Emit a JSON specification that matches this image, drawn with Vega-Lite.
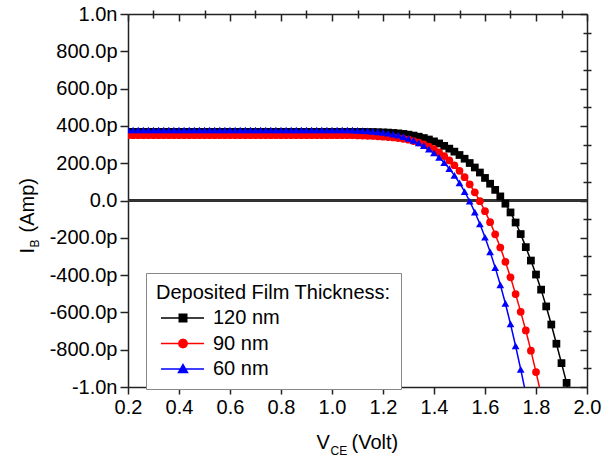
{
 "$schema": "https://vega.github.io/schema/vega-lite/v6.json",
 "width": 459, "height": 373,
 "autosize": {"type": "none"},
 "padding": {"left": 128, "top": 14, "right": 26, "bottom": 73},
 "config": {
  "view": {"stroke": null},
  "font": "Liberation Sans",
  "axis": {"grid": false, "labelFlush": false, "domainColor": "#222", "tickColor": "#222", "domainWidth": 1.5, "tickWidth": 1.5, "labelColor": "#000", "titleColor": "#000", "labelFont": "Liberation Sans", "titleFont": "Liberation Sans", "titleFontWeight": "normal", "labelFontSize": 20, "titleFontSize": 20}
 },
 "data": {"values": [
{"v":0.2,"i":0.368,"s":"120 nm"},{"v":0.22,"i":0.368,"s":"120 nm"},{"v":0.24,"i":0.368,"s":"120 nm"},{"v":0.26,"i":0.368,"s":"120 nm"},{"v":0.28,"i":0.368,"s":"120 nm"},{"v":0.3,"i":0.368,"s":"120 nm"},{"v":0.32,"i":0.368,"s":"120 nm"},{"v":0.34,"i":0.368,"s":"120 nm"},{"v":0.36,"i":0.368,"s":"120 nm"},{"v":0.38,"i":0.368,"s":"120 nm"},
{"v":0.4,"i":0.368,"s":"120 nm"},{"v":0.42,"i":0.368,"s":"120 nm"},{"v":0.44,"i":0.368,"s":"120 nm"},{"v":0.46,"i":0.368,"s":"120 nm"},{"v":0.48,"i":0.368,"s":"120 nm"},{"v":0.5,"i":0.368,"s":"120 nm"},{"v":0.52,"i":0.368,"s":"120 nm"},{"v":0.54,"i":0.368,"s":"120 nm"},{"v":0.56,"i":0.368,"s":"120 nm"},{"v":0.58,"i":0.368,"s":"120 nm"},
{"v":0.6,"i":0.368,"s":"120 nm"},{"v":0.62,"i":0.368,"s":"120 nm"},{"v":0.64,"i":0.368,"s":"120 nm"},{"v":0.66,"i":0.368,"s":"120 nm"},{"v":0.68,"i":0.368,"s":"120 nm"},{"v":0.7,"i":0.368,"s":"120 nm"},{"v":0.72,"i":0.368,"s":"120 nm"},{"v":0.74,"i":0.368,"s":"120 nm"},{"v":0.76,"i":0.368,"s":"120 nm"},{"v":0.78,"i":0.368,"s":"120 nm"},
{"v":0.8,"i":0.368,"s":"120 nm"},{"v":0.82,"i":0.368,"s":"120 nm"},{"v":0.84,"i":0.368,"s":"120 nm"},{"v":0.86,"i":0.368,"s":"120 nm"},{"v":0.88,"i":0.368,"s":"120 nm"},{"v":0.9,"i":0.368,"s":"120 nm"},{"v":0.92,"i":0.368,"s":"120 nm"},{"v":0.94,"i":0.368,"s":"120 nm"},{"v":0.96,"i":0.368,"s":"120 nm"},{"v":0.98,"i":0.368,"s":"120 nm"},
{"v":1.0,"i":0.368,"s":"120 nm"},{"v":1.02,"i":0.368,"s":"120 nm"},{"v":1.04,"i":0.368,"s":"120 nm"},{"v":1.06,"i":0.368,"s":"120 nm"},{"v":1.08,"i":0.368,"s":"120 nm"},{"v":1.1,"i":0.368,"s":"120 nm"},{"v":1.12,"i":0.368,"s":"120 nm"},{"v":1.14,"i":0.367,"s":"120 nm"},{"v":1.16,"i":0.367,"s":"120 nm"},{"v":1.18,"i":0.366,"s":"120 nm"},
{"v":1.2,"i":0.365,"s":"120 nm"},{"v":1.22,"i":0.364,"s":"120 nm"},{"v":1.24,"i":0.362,"s":"120 nm"},{"v":1.26,"i":0.36,"s":"120 nm"},{"v":1.28,"i":0.357,"s":"120 nm"},{"v":1.3,"i":0.353,"s":"120 nm"},{"v":1.32,"i":0.348,"s":"120 nm"},{"v":1.34,"i":0.342,"s":"120 nm"},{"v":1.36,"i":0.335,"s":"120 nm"},{"v":1.38,"i":0.327,"s":"120 nm"},
{"v":1.4,"i":0.317,"s":"120 nm"},{"v":1.42,"i":0.306,"s":"120 nm"},{"v":1.44,"i":0.293,"s":"120 nm"},{"v":1.46,"i":0.278,"s":"120 nm"},{"v":1.48,"i":0.262,"s":"120 nm"},{"v":1.5,"i":0.244,"s":"120 nm"},{"v":1.52,"i":0.224,"s":"120 nm"},{"v":1.54,"i":0.201,"s":"120 nm"},{"v":1.56,"i":0.177,"s":"120 nm"},{"v":1.58,"i":0.15,"s":"120 nm"},
{"v":1.6,"i":0.121,"s":"120 nm"},{"v":1.62,"i":0.09,"s":"120 nm"},{"v":1.64,"i":0.057,"s":"120 nm"},{"v":1.66,"i":0.022,"s":"120 nm"},{"v":1.68,"i":-0.017,"s":"120 nm"},{"v":1.7,"i":-0.064,"s":"120 nm"},{"v":1.72,"i":-0.118,"s":"120 nm"},{"v":1.74,"i":-0.18,"s":"120 nm"},{"v":1.76,"i":-0.25,"s":"120 nm"},{"v":1.78,"i":-0.322,"s":"120 nm"},
{"v":1.8,"i":-0.397,"s":"120 nm"},{"v":1.82,"i":-0.478,"s":"120 nm"},{"v":1.84,"i":-0.568,"s":"120 nm"},{"v":1.86,"i":-0.665,"s":"120 nm"},{"v":1.88,"i":-0.768,"s":"120 nm"},{"v":1.9,"i":-0.872,"s":"120 nm"},{"v":1.92,"i":-0.978,"s":"120 nm"},{"v":1.94,"i":-1.085,"s":"120 nm"},

{"v":0.2,"i":0.35,"s":"90 nm"},{"v":0.22,"i":0.35,"s":"90 nm"},{"v":0.24,"i":0.35,"s":"90 nm"},{"v":0.26,"i":0.35,"s":"90 nm"},{"v":0.28,"i":0.35,"s":"90 nm"},{"v":0.3,"i":0.35,"s":"90 nm"},{"v":0.32,"i":0.35,"s":"90 nm"},{"v":0.34,"i":0.35,"s":"90 nm"},{"v":0.36,"i":0.35,"s":"90 nm"},{"v":0.38,"i":0.35,"s":"90 nm"},
{"v":0.4,"i":0.35,"s":"90 nm"},{"v":0.42,"i":0.35,"s":"90 nm"},{"v":0.44,"i":0.35,"s":"90 nm"},{"v":0.46,"i":0.35,"s":"90 nm"},{"v":0.48,"i":0.35,"s":"90 nm"},{"v":0.5,"i":0.35,"s":"90 nm"},{"v":0.52,"i":0.35,"s":"90 nm"},{"v":0.54,"i":0.35,"s":"90 nm"},{"v":0.56,"i":0.35,"s":"90 nm"},{"v":0.58,"i":0.35,"s":"90 nm"},
{"v":0.6,"i":0.35,"s":"90 nm"},{"v":0.62,"i":0.35,"s":"90 nm"},{"v":0.64,"i":0.35,"s":"90 nm"},{"v":0.66,"i":0.35,"s":"90 nm"},{"v":0.68,"i":0.35,"s":"90 nm"},{"v":0.7,"i":0.35,"s":"90 nm"},{"v":0.72,"i":0.35,"s":"90 nm"},{"v":0.74,"i":0.35,"s":"90 nm"},{"v":0.76,"i":0.35,"s":"90 nm"},{"v":0.78,"i":0.35,"s":"90 nm"},
{"v":0.8,"i":0.35,"s":"90 nm"},{"v":0.82,"i":0.35,"s":"90 nm"},{"v":0.84,"i":0.35,"s":"90 nm"},{"v":0.86,"i":0.35,"s":"90 nm"},{"v":0.88,"i":0.35,"s":"90 nm"},{"v":0.9,"i":0.35,"s":"90 nm"},{"v":0.92,"i":0.35,"s":"90 nm"},{"v":0.94,"i":0.35,"s":"90 nm"},{"v":0.96,"i":0.35,"s":"90 nm"},{"v":0.98,"i":0.35,"s":"90 nm"},
{"v":1.0,"i":0.35,"s":"90 nm"},{"v":1.02,"i":0.35,"s":"90 nm"},{"v":1.04,"i":0.35,"s":"90 nm"},{"v":1.06,"i":0.35,"s":"90 nm"},{"v":1.08,"i":0.35,"s":"90 nm"},{"v":1.1,"i":0.349,"s":"90 nm"},{"v":1.12,"i":0.348,"s":"90 nm"},{"v":1.14,"i":0.347,"s":"90 nm"},{"v":1.16,"i":0.346,"s":"90 nm"},{"v":1.18,"i":0.344,"s":"90 nm"},
{"v":1.2,"i":0.342,"s":"90 nm"},{"v":1.22,"i":0.34,"s":"90 nm"},{"v":1.24,"i":0.338,"s":"90 nm"},{"v":1.26,"i":0.335,"s":"90 nm"},{"v":1.28,"i":0.331,"s":"90 nm"},{"v":1.3,"i":0.326,"s":"90 nm"},{"v":1.32,"i":0.319,"s":"90 nm"},{"v":1.34,"i":0.311,"s":"90 nm"},{"v":1.36,"i":0.301,"s":"90 nm"},{"v":1.38,"i":0.289,"s":"90 nm"},
{"v":1.4,"i":0.275,"s":"90 nm"},{"v":1.42,"i":0.258,"s":"90 nm"},{"v":1.44,"i":0.238,"s":"90 nm"},{"v":1.46,"i":0.215,"s":"90 nm"},{"v":1.48,"i":0.189,"s":"90 nm"},{"v":1.5,"i":0.159,"s":"90 nm"},{"v":1.52,"i":0.125,"s":"90 nm"},{"v":1.54,"i":0.087,"s":"90 nm"},{"v":1.56,"i":0.044,"s":"90 nm"},{"v":1.58,"i":-0.004,"s":"90 nm"},
{"v":1.6,"i":-0.057,"s":"90 nm"},{"v":1.62,"i":-0.116,"s":"90 nm"},{"v":1.64,"i":-0.181,"s":"90 nm"},{"v":1.66,"i":-0.252,"s":"90 nm"},{"v":1.68,"i":-0.329,"s":"90 nm"},{"v":1.7,"i":-0.412,"s":"90 nm"},{"v":1.72,"i":-0.502,"s":"90 nm"},{"v":1.74,"i":-0.597,"s":"90 nm"},{"v":1.76,"i":-0.697,"s":"90 nm"},{"v":1.78,"i":-0.805,"s":"90 nm"},
{"v":1.8,"i":-0.92,"s":"90 nm"},{"v":1.82,"i":-1.04,"s":"90 nm"},

{"v":0.2,"i":0.378,"s":"60 nm"},{"v":0.22,"i":0.378,"s":"60 nm"},{"v":0.24,"i":0.378,"s":"60 nm"},{"v":0.26,"i":0.378,"s":"60 nm"},{"v":0.28,"i":0.378,"s":"60 nm"},{"v":0.3,"i":0.378,"s":"60 nm"},{"v":0.32,"i":0.378,"s":"60 nm"},{"v":0.34,"i":0.378,"s":"60 nm"},{"v":0.36,"i":0.378,"s":"60 nm"},{"v":0.38,"i":0.378,"s":"60 nm"},
{"v":0.4,"i":0.378,"s":"60 nm"},{"v":0.42,"i":0.378,"s":"60 nm"},{"v":0.44,"i":0.378,"s":"60 nm"},{"v":0.46,"i":0.378,"s":"60 nm"},{"v":0.48,"i":0.378,"s":"60 nm"},{"v":0.5,"i":0.378,"s":"60 nm"},{"v":0.52,"i":0.378,"s":"60 nm"},{"v":0.54,"i":0.378,"s":"60 nm"},{"v":0.56,"i":0.378,"s":"60 nm"},{"v":0.58,"i":0.378,"s":"60 nm"},
{"v":0.6,"i":0.378,"s":"60 nm"},{"v":0.62,"i":0.378,"s":"60 nm"},{"v":0.64,"i":0.378,"s":"60 nm"},{"v":0.66,"i":0.378,"s":"60 nm"},{"v":0.68,"i":0.378,"s":"60 nm"},{"v":0.7,"i":0.378,"s":"60 nm"},{"v":0.72,"i":0.378,"s":"60 nm"},{"v":0.74,"i":0.378,"s":"60 nm"},{"v":0.76,"i":0.378,"s":"60 nm"},{"v":0.78,"i":0.378,"s":"60 nm"},
{"v":0.8,"i":0.378,"s":"60 nm"},{"v":0.82,"i":0.378,"s":"60 nm"},{"v":0.84,"i":0.378,"s":"60 nm"},{"v":0.86,"i":0.378,"s":"60 nm"},{"v":0.88,"i":0.378,"s":"60 nm"},{"v":0.9,"i":0.378,"s":"60 nm"},{"v":0.92,"i":0.378,"s":"60 nm"},{"v":0.94,"i":0.378,"s":"60 nm"},{"v":0.96,"i":0.378,"s":"60 nm"},{"v":0.98,"i":0.378,"s":"60 nm"},
{"v":1.0,"i":0.378,"s":"60 nm"},{"v":1.02,"i":0.378,"s":"60 nm"},{"v":1.04,"i":0.378,"s":"60 nm"},{"v":1.06,"i":0.378,"s":"60 nm"},{"v":1.08,"i":0.377,"s":"60 nm"},{"v":1.1,"i":0.376,"s":"60 nm"},{"v":1.12,"i":0.375,"s":"60 nm"},{"v":1.14,"i":0.373,"s":"60 nm"},{"v":1.16,"i":0.371,"s":"60 nm"},{"v":1.18,"i":0.368,"s":"60 nm"},
{"v":1.2,"i":0.365,"s":"60 nm"},{"v":1.22,"i":0.361,"s":"60 nm"},{"v":1.24,"i":0.356,"s":"60 nm"},{"v":1.26,"i":0.35,"s":"60 nm"},{"v":1.28,"i":0.342,"s":"60 nm"},{"v":1.3,"i":0.333,"s":"60 nm"},{"v":1.32,"i":0.322,"s":"60 nm"},{"v":1.34,"i":0.309,"s":"60 nm"},{"v":1.36,"i":0.294,"s":"60 nm"},{"v":1.38,"i":0.276,"s":"60 nm"},
{"v":1.4,"i":0.255,"s":"60 nm"},{"v":1.42,"i":0.231,"s":"60 nm"},{"v":1.44,"i":0.203,"s":"60 nm"},{"v":1.46,"i":0.171,"s":"60 nm"},{"v":1.48,"i":0.135,"s":"60 nm"},{"v":1.5,"i":0.094,"s":"60 nm"},{"v":1.52,"i":0.048,"s":"60 nm"},{"v":1.54,"i":-0.004,"s":"60 nm"},{"v":1.56,"i":-0.062,"s":"60 nm"},{"v":1.58,"i":-0.126,"s":"60 nm"},
{"v":1.6,"i":-0.197,"s":"60 nm"},{"v":1.62,"i":-0.275,"s":"60 nm"},{"v":1.64,"i":-0.36,"s":"60 nm"},{"v":1.66,"i":-0.452,"s":"60 nm"},{"v":1.68,"i":-0.552,"s":"60 nm"},{"v":1.7,"i":-0.662,"s":"60 nm"},{"v":1.72,"i":-0.78,"s":"60 nm"},{"v":1.74,"i":-0.905,"s":"60 nm"},{"v":1.76,"i":-1.035,"s":"60 nm"}
 ]},
 "layer": [
  {
   "mark": {"type": "rule", "color": "#333", "strokeWidth": 1.5},
   "encoding": {
    "y": {"datum": 0, "type": "quantitative", "scale": {"domain": [-1, 1], "nice": false}, "axis": null}
   }
  },
  {
   "mark": {"type": "line", "strokeWidth": 1.5, "clip": true},
   "encoding": {
    "x": {"field": "v", "type": "quantitative", "scale": {"domain": [0.2, 2.0], "nice": false, "zero": false},
      "axis": {"values": [0.2,0.4,0.6,0.8,1.0,1.2,1.4,1.6,1.8,2.0], "format": ".1f", "tickSize": 7, "labelPadding": 3,
        "title": "V", "titleX": 188, "titleY": 61, "titleAlign": "left", "titleBaseline": "alphabetic"}},
    "y": {"field": "i", "type": "quantitative", "scale": {"domain": [-1, 1], "nice": false, "zero": false},
      "axis": {"values": [-1,-0.8,-0.6,-0.4,-0.2,0,0.2,0.4,0.6,0.8,1], "tickSize": 8, "labelPadding": 3,
        "labelExpr": "datum.value >= 0.999 ? '1.0n' : (datum.value <= -0.999 ? '-1.0n' : (abs(datum.value) < 0.001 ? '0.0' : (datum.value < 0 ? '-' : '') + format(abs(datum.value) * 1000, '.1f') + 'p'))",
        "title": "I", "titleAngle": -90, "titleX": -95, "titleY": 239, "titleAlign": "left", "titleBaseline": "alphabetic"}},
    "color": {"field": "s", "type": "nominal",
      "scale": {"domain": ["120 nm", "90 nm", "60 nm"], "range": ["#000000", "#ff0000", "#0000ff"]},
      "legend": {
        "title": "Deposited Film Thickness:", "orient": "none", "legendX": 18, "legendY": 259, "direction": "vertical",
        "padding": 10, "rowPadding": 5.5, "titlePadding": 5, "labelOffset": 37, "symbolSize": 100, "symbolStrokeWidth": 1.5,
        "titleLimit": 400, "labelLimit": 200, "strokeColor": "#888", "fillColor": "#ffffff",
        "titleFontSize": 20, "titleFontWeight": "normal", "titleColor": "#000", "titleFont": "Liberation Sans",
        "labelFontSize": 20, "labelColor": "#000", "labelFont": "Liberation Sans",
        "encode": {"symbols": {"update": {
          "shape": {"signal": "datum.value === '120 nm' ? 'M-1,0H7.6M2.65,-0.75H4.15V0.75H2.65Z' : (datum.value === '90 nm' ? 'M-1,0H7.6M4.25,0L4.136,0.425L3.825,0.736L3.4,0.85L2.975,0.736L2.664,0.425L2.55,0L2.664,-0.425L2.975,-0.736L3.4,-0.85L3.825,-0.736L4.136,-0.425Z' : 'M-1,0H7.6M3.4,-0.9L4.3,0.7L2.5,0.7Z')"},
          "fill": {"scale": "color", "field": "value"},
          "stroke": {"scale": "color", "field": "value"},
          "strokeWidth": {"value": 1.5},
          "opacity": {"value": 1}
        }}}
      }}
   }
  },
  {
   "transform": [{"filter": "datum.s === '120 nm'"}],
   "mark": {"type": "point", "filled": true, "size": 60, "opacity": 1, "clip": true, "shape": "square", "color": "#000000"},
   "encoding": {
    "x": {"field": "v", "type": "quantitative", "scale": {"domain": [0.2, 2.0], "nice": false, "zero": false},
      "axis": {"values": [0.3,0.5,0.7,0.9,1.1,1.3,1.5,1.7,1.9], "tickSize": 4, "labels": false, "domain": false, "title": null}},
    "y": {"field": "i", "type": "quantitative", "scale": {"domain": [-1, 1], "nice": false, "zero": false},
      "axis": {"values": [-0.9,-0.7,-0.5,-0.3,-0.1,0.1,0.3,0.5,0.7,0.9], "tickSize": 4, "labels": false, "domain": false, "title": null}}
   }
  },
  {
   "transform": [{"filter": "datum.s === '90 nm'"}],
   "mark": {"type": "point", "filled": true, "size": 60, "opacity": 1, "clip": true, "shape": "circle", "color": "#ff0000"},
   "encoding": {
    "x": {"field": "v", "type": "quantitative", "scale": {"domain": [0.2, 2.0], "nice": false, "zero": false}, "axis": null},
    "y": {"field": "i", "type": "quantitative", "scale": {"domain": [-1, 1], "nice": false, "zero": false}, "axis": null}
   }
  },
  {
   "transform": [{"filter": "datum.s === '60 nm'"}],
   "mark": {"type": "point", "filled": true, "size": 60, "opacity": 1, "clip": true, "shape": "triangle-up", "color": "#0000ff"},
   "encoding": {
    "x": {"field": "v", "type": "quantitative", "scale": {"domain": [0.2, 2.0], "nice": false, "zero": false}, "axis": null},
    "y": {"field": "i", "type": "quantitative", "scale": {"domain": [-1, 1], "nice": false, "zero": false}, "axis": null}
   }
  },
  {
   "transform": [{"filter": "datum.v > 100"}],
   "mark": {"type": "point"},
   "encoding": {
    "x": {"field": "v", "type": "quantitative", "scale": {"domain": [0.2, 2.0], "nice": false, "zero": false},
      "axis": {"orient": "top", "values": [0.2,0.4,0.6,0.8,1.0,1.2,1.4,1.6,1.8,2.0], "tickSize": -7, "labels": false,
        "title": "(Volt)", "titleX": 223, "titleY": 434, "titleAlign": "left", "titleBaseline": "alphabetic"}},
    "y": {"field": "i", "type": "quantitative", "scale": {"domain": [-1, 1], "nice": false, "zero": false},
      "axis": {"orient": "right", "values": [-1,-0.8,-0.6,-0.4,-0.2,0,0.2,0.4,0.6,0.8,1], "tickSize": -7, "labels": false,
        "title": "(Amp)", "titleAngle": -90, "titleX": -554, "titleY": 218, "titleAlign": "left", "titleBaseline": "alphabetic"}}
   }
  },
  {
   "transform": [{"filter": "datum.v > 100"}],
   "mark": {"type": "point"},
   "encoding": {
    "x": {"field": "v", "type": "quantitative", "scale": {"domain": [0.2, 2.0], "nice": false, "zero": false},
      "axis": {"orient": "top", "values": [0.3,0.5,0.7,0.9,1.1,1.3,1.5,1.7,1.9], "tickSize": -4, "labels": false, "domain": false, "title": null}},
    "y": {"field": "i", "type": "quantitative", "scale": {"domain": [-1, 1], "nice": false, "zero": false},
      "axis": {"orient": "right", "values": [-0.9,-0.7,-0.5,-0.3,-0.1,0.1,0.3,0.5,0.7,0.9], "tickSize": -4, "labels": false, "domain": false, "title": null}}
   }
  },
  {
   "transform": [{"filter": "datum.v > 100"}],
   "mark": {"type": "point"},
   "encoding": {
    "x": {"field": "v", "type": "quantitative", "scale": {"domain": [0.2, 2.0], "nice": false, "zero": false},
      "axis": {"orient": "bottom", "domain": false, "ticks": false, "labels": false, "title": "CE", "titleFontSize": 12, "titleX": 202, "titleY": 67, "titleAlign": "left", "titleBaseline": "alphabetic"}},
    "y": {"field": "i", "type": "quantitative", "scale": {"domain": [-1, 1], "nice": false, "zero": false},
      "axis": {"orient": "left", "domain": false, "ticks": false, "labels": false, "title": "B", "titleFontSize": 12, "titleAngle": -90, "titleX": -90, "titleY": 233, "titleAlign": "left", "titleBaseline": "alphabetic"}}
   }
  }
 ],
 "resolve": {"axis": {"x": "independent", "y": "independent"}}
}
